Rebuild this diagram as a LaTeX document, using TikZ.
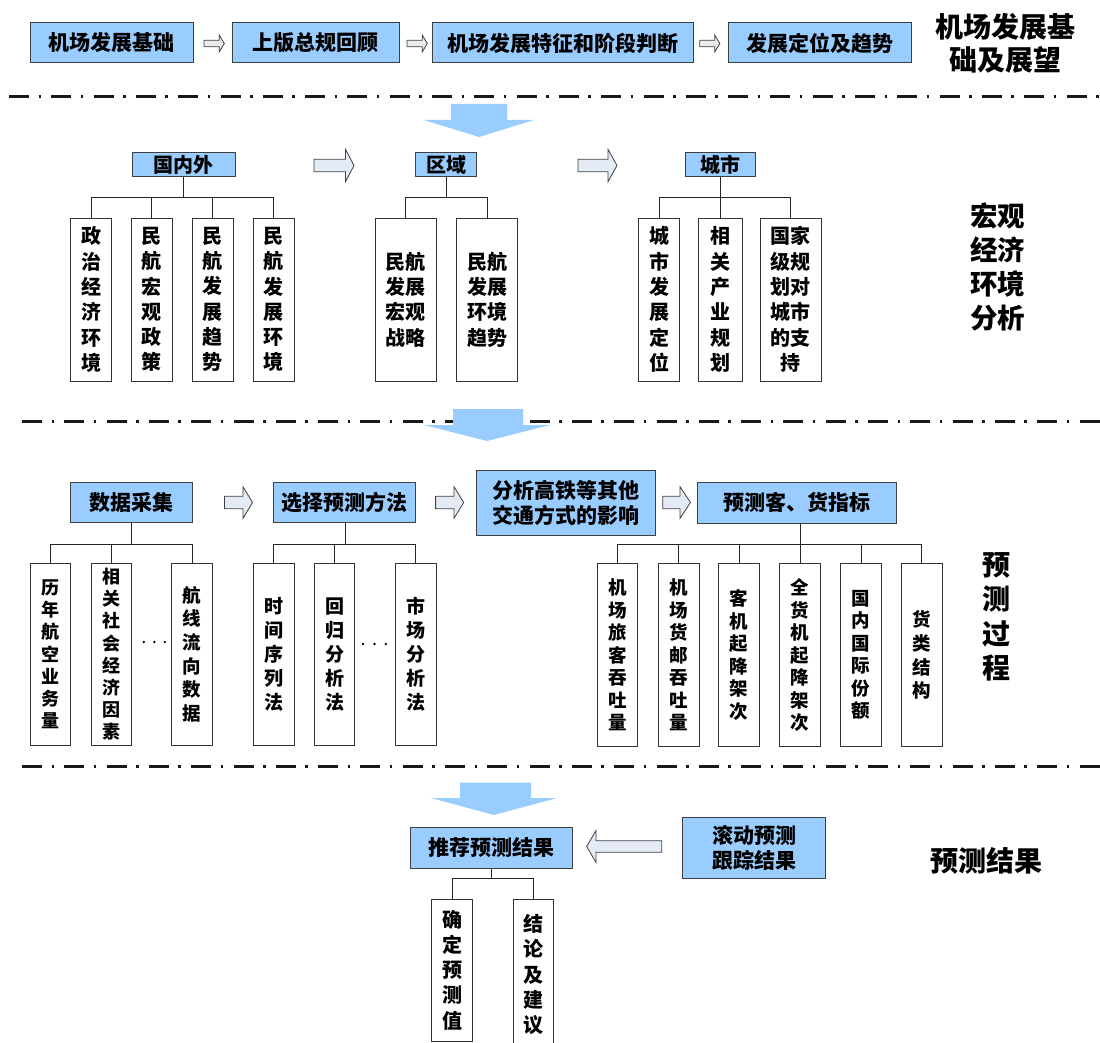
\documentclass[tikz,border=0pt]{standalone}
\usepackage{fontspec}
\setmainfont{Noto Sans CJK SC}
\definecolor{boxblue}{RGB}{153,204,255}
\definecolor{hollowfill}{RGB}{228,234,246}
\newcommand{\hzarrow}[7][hollowarrow]{%
  \draw[#1] (#2,{#4-#5}) -- ({#3-(#7)},{#4-#5}) -- ({#3-(#7)},{#4-#6}) -- (#3,#4)
    -- ({#3-(#7)},{#4+#6}) -- ({#3-(#7)},{#4+#5}) -- (#2,{#4+#5}) -- cycle;}
\begin{document}
\begin{tikzpicture}[x=1pt,y=-1pt,
  bluebox/.style={draw=black!75, fill=boxblue, line width=1pt, inner sep=0pt, align=center,
    font=\bfseries\fontsize{21}{25}\selectfont},
  kidbox/.style={draw=black!80, fill=white, line width=0.9pt, inner sep=0pt, align=center},
  kfA/.style={font=\bfseries\fontsize{20}{25.3}\selectfont},
  kfB/.style={font=\bfseries\fontsize{18}{22.2}\selectfont},
  kfC/.style={font=\bfseries\fontsize{19}{24}\selectfont},
  kfD/.style={font=\bfseries\fontsize{18.5}{22.5}\selectfont},
  conn/.style={draw=black!85, line width=0.9pt},
  sectlabel/.style={align=center, font=\bfseries\fontsize{28}{34.4}\selectfont},
  dashdot/.style={draw=black!90, line width=3pt, dash pattern=on 20pt off 9.5pt on 2.5pt off 10.3pt},
  downarrow/.style={fill=boxblue, draw=none},
  hollowarrow/.style={fill=hollowfill, draw=black!75, line width=0.8pt},
  smallarrow/.style={fill=black!8, draw=black!75, line width=0.8pt},
]
\useasboundingbox (0,0) rectangle (1100,1043);

% ---------- separators ----------
\draw[dashdot] (9,97) -- (1100,97);
\draw[dashdot] (22,421.7) -- (1100,421.7);
\draw[dashdot] (22,766) -- (1100,766);

% ---------- top row ----------
\node[bluebox, minimum width=163, minimum height=40] (t1) at (111.5,43) {机场发展基础};
\node[bluebox, minimum width=167, minimum height=40] (t2) at (315.5,43) {上版总规回顾};
\node[bluebox, minimum width=261, minimum height=40] (t3) at (562.5,43) {机场发展特征和阶段判断};
\node[bluebox, minimum width=183, minimum height=40] (t4) at (819.5,43) {发展定位及趋势};
\hzarrow[smallarrow]{204}{224.3}{43.5}{3.3}{8.3}{5}
\hzarrow[smallarrow]{407}{427.3}{43.5}{3.3}{8.3}{5}
\hzarrow[smallarrow]{699.8}{719.8}{43.5}{3.3}{8.3}{5}
\node[sectlabel, font=\bfseries\fontsize{28}{33}\selectfont] (L1) at (1005,43.5) {机场发展基\\础及展望};

% ---------- down arrows ----------
\fill[downarrow] (451,104) -- (507,104) -- (507,120) -- (534,120) -- (479,137) -- (424,120) -- (451,120) -- cycle;
\fill[downarrow] (453,409) -- (523,409) -- (523,425) -- (550,425) -- (487,441) -- (424,425) -- (453,425) -- cycle;
\fill[downarrow] (460,782.7) -- (531,782.7) -- (531,798) -- (557,798) -- (494,815) -- (431,798) -- (460,798) -- cycle;

% ---------- section 2 ----------
\node[bluebox, font=\bfseries\fontsize{20}{24}\selectfont, minimum width=103, minimum height=24] (gnw) at (183.5,165) {国内外};
\node[bluebox, font=\bfseries\fontsize{20}{24}\selectfont, minimum width=60.7, minimum height=24] (qy) at (446,165) {区域};
\node[bluebox, font=\bfseries\fontsize{20}{24}\selectfont, minimum width=70.2, minimum height=24] (cs) at (720.8,165) {城市};
\hzarrow{314}{354}{165.5}{6.2}{16.2}{8.5}
\hzarrow{578}{617}{165.5}{6.2}{16.2}{9}

\node[kidbox, kfA, minimum width=40.7, minimum height=163] (a1) at (91.2,299.5) {政\\治\\经\\济\\环\\境};
\node[kidbox, kfA, minimum width=40.7, minimum height=163] (a2) at (151.9,299.5) {民\\航\\宏\\观\\政\\策};
\node[kidbox, kfA, minimum width=40.7, minimum height=163] (a3) at (212.8,299.5) {民\\航\\发\\展\\趋\\势};
\node[kidbox, kfA, minimum width=40.7, minimum height=163] (a4) at (273.6,299.5) {民\\航\\发\\展\\环\\境};
\node[kidbox, kfA, minimum width=60.7, minimum height=163] (b1) at (405.7,299.5) {民航\\发展\\宏观\\战略};
\node[kidbox, kfA, minimum width=60.7, minimum height=163] (b2) at (487,299.5) {民航\\发展\\环境\\趋势};
\node[kidbox, kfA, minimum width=41, minimum height=163] (c1) at (659.2,299.5) {城\\市\\发\\展\\定\\位};
\node[kidbox, kfA, minimum width=44.5, minimum height=163] (c2) at (720.6,299.5) {相\\关\\产\\业\\规\\划};
\node[kidbox, kfA, minimum width=60.6, minimum height=163] (c3) at (790.8,299.5) {国家\\级规\\划对\\城市\\的支\\持};

\foreach \k in {a1,a2,a3,a4} \draw[conn] (gnw.south) -- ++(0,20.3) -| (\k.north);
\foreach \k in {b1,b2} \draw[conn] (qy.south) -- ++(0,20.3) -| (\k.north);
\foreach \k in {c1,c2,c3} \draw[conn] (cs.south) -- ++(0,20.3) -| (\k.north);

\node[sectlabel, font=\bfseries\fontsize{27.5}{34.3}\selectfont] (L2) at (997.8,267) {宏观\\经济\\环境\\分析};

% ---------- section 3 ----------
\node[bluebox, minimum width=121.3, minimum height=40.4] (sj) at (131.5,502.5) {数据采集};
\node[bluebox, minimum width=142, minimum height=40.4] (xz) at (344.6,502.5) {选择预测方法};
\node[bluebox, minimum width=178.7, minimum height=65] (fx) at (565.7,502.5) {分析高铁等其他\\交通方式的影响};
\node[bluebox, minimum width=199, minimum height=41] (yc) at (797,502.5) {预测客、货指标};
\hzarrow{224.5}{252.5}{502.5}{6.2}{15.8}{9.5}
\hzarrow{435.6}{463.7}{502.5}{6.2}{15.8}{9.7}
\hzarrow{662.7}{690.5}{502.5}{6.2}{15.8}{10.5}

\node[kidbox, kfB, minimum width=40.4, minimum height=182] (d1) at (50.7,654.3) {历\\年\\航\\空\\业\\务\\量};
\node[kidbox, kfB, minimum width=40.4, minimum height=182] (d2) at (111.4,654.3) {相\\关\\社\\会\\经\\济\\因\\素};
\node[kidbox, font=\bfseries\fontsize{18.5}{23.7}\selectfont, minimum width=40.6, minimum height=182] (d3) at (192.2,654.3) {航\\线\\流\\向\\数\\据};
\node[kidbox, kfC, minimum width=40.8, minimum height=182] (e1) at (273.6,654.3) {时\\间\\序\\列\\法};
\node[kidbox, kfC, minimum width=40.8, minimum height=182] (e2) at (334.5,654.3) {回\\归\\分\\析\\法};
\node[kidbox, kfC, minimum width=40.8, minimum height=182] (e3) at (415.6,654.3) {市\\场\\分\\析\\法};
\fill (143.8,642) circle (1.3) (154.3,642) circle (1.3) (164.9,642) circle (1.3);
\fill (363,644) circle (1.3) (374.5,644) circle (1.3) (385.8,644) circle (1.3);

\node[kidbox, kfD, minimum width=40.6, minimum height=183] (f1) at (617.5,655) {机\\场\\旅\\客\\吞\\吐\\量};
\node[kidbox, kfD, minimum width=40.6, minimum height=183] (f2) at (678.9,655) {机\\场\\货\\邮\\吞\\吐\\量};
\node[kidbox, kfD, minimum width=40.6, minimum height=183] (f3) at (739,655) {客\\机\\起\\降\\架\\次};
\node[kidbox, kfD, minimum width=40.6, minimum height=183] (f4) at (800,655) {全\\货\\机\\起\\降\\架\\次};
\node[kidbox, kfD, minimum width=40.6, minimum height=183] (f5) at (861,655) {国\\内\\国\\际\\份\\额};
\node[kidbox, font=\bfseries\fontsize{18.5}{23.9}\selectfont, minimum width=40.6, minimum height=183] (f6) at (921.7,655) {货\\类\\结\\构};

\foreach \k in {d1,d2,d3} \draw[conn] (sj.south) -- ++(0,20.8) -| (\k.north);
\foreach \k in {e1,e2,e3} \draw[conn] (xz.south -| e2.north) ++(11,0) -- ++(0,20.8) -| (\k.north);
\foreach \k in {f1,f2,f3,f4,f5,f6} \draw[conn] (yc.south -| f4.north) -- ++(0,20.8) -| (\k.north);

\node[sectlabel, font=\bfseries\fontsize{28}{34.5}\selectfont] (L3) at (996,617) {预\\测\\过\\程};

% ---------- section 4 ----------
\node[bluebox, minimum width=162.4, minimum height=40.6] (tj) at (491.5,848) {推荐预测结果};
\node[bluebox, minimum width=142.6, minimum height=60.6] (gd) at (754,848) {滚动预测\\跟踪结果};
\hzarrow{661.7}{586.7}{846.5}{5.8}{16}{-9.3}

\node[kidbox, kfA, minimum width=40.6, minimum height=142] (g1) at (452,970) {确\\定\\预\\测\\值};
\node[kidbox, kfA, minimum width=40, minimum height=151] (g2) at (533.3,974.5) {结\\论\\及\\建\\议};
\foreach \k in {g1,g2} \draw[conn] (tj.south) -- ++(0,10) -| (\k.north);

\node[sectlabel] (L4) at (986.5,861) {预测结果};
\end{tikzpicture}
\end{document}
